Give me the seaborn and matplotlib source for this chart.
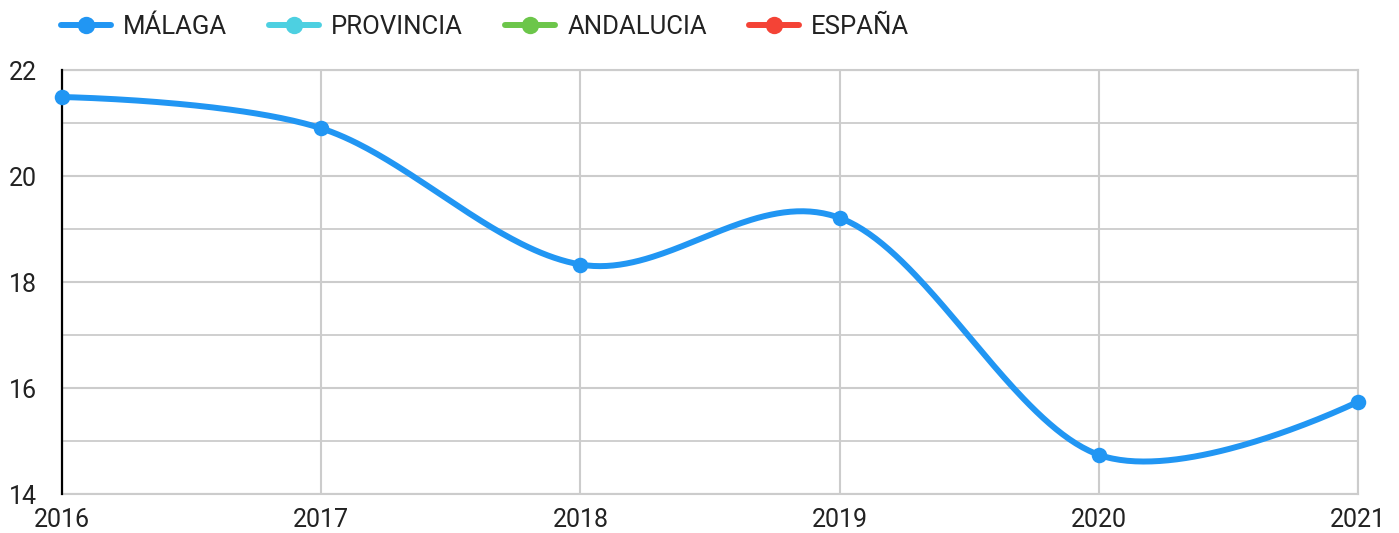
import numpy as np
import pandas as pd
import matplotlib
matplotlib.use("Agg")
import matplotlib.pyplot as plt
import seaborn as sns
from matplotlib.lines import Line2D

# Data
years = [2016, 2017, 2018, 2019, 2020, 2021]
malaga = [21.49, 20.90, 18.33, 19.21, 14.74, 15.74]
series_names = ["MÁLAGA", "PROVINCIA", "ANDALUCIA", "ESPAÑA"]
series_colors = ["#2196F3", "#4DD0E1", "#6CC64A", "#F44336"]
y_major = [14, 16, 18, 20, 22]
y_minor = [15, 17, 19, 21]


def smooth_curve(xs, ys, n=80):
    """Cubic Bezier smoothing through the points (Catmull-Rom style tangents)."""
    pts = np.column_stack([xs, ys]).astype(float)
    k = len(pts)
    out = []
    t = np.linspace(0, 1, n)[:, None]
    for i in range(k - 1):
        p0, p3 = pts[i], pts[i + 1]
        c1 = p0 + (pts[i + 1] - pts[i - 1]) / 6 if i > 0 else p0
        c2 = p3 - (pts[i + 2] - pts[i]) / 6 if i + 2 < k else p3
        seg = (1 - t) ** 3 * p0 + 3 * (1 - t) ** 2 * t * c1 + 3 * (1 - t) * t ** 2 * c2 + t ** 3 * p3
        out.append(seg if i == 0 else seg[1:])
    return np.vstack(out)


sns.set_theme(style="white")
plt.rcParams["font.family"] = ["Roboto", "DejaVu Sans"]
text_color = "#222222"
grid_color = "#cccccc"

fig = plt.figure(figsize=(13.99, 5.33), dpi=100)
ax = fig.add_axes([62 / 1399, 39 / 533, 1296 / 1399, 424 / 533])

points = pd.DataFrame({"year": years, "value": malaga})
curve = smooth_curve(years, malaga)
curve_df = pd.DataFrame({"year": curve[:, 0], "value": curve[:, 1]})

sns.lineplot(data=curve_df, x="year", y="value", sort=False, ax=ax,
             color=series_colors[0], lw=4.3, zorder=5, clip_on=False)
sns.scatterplot(data=points, x="year", y="value", ax=ax, color=series_colors[0],
                s=125, linewidth=0, zorder=6, clip_on=False)

ax.set_xlim(2016, 2021)
ax.set_ylim(14, 22)
ax.set_xticks(years)
ax.set_xticklabels([str(y) for y in years])
ax.set_yticks(y_major)
ax.set_yticklabels([str(v) for v in y_major])
ax.set_yticks(y_minor, minor=True)
ax.set_xlabel("")
ax.set_ylabel("")

ax.grid(which="major", axis="both", color=grid_color, lw=1.5, zorder=0)
ax.grid(which="minor", axis="y", color=grid_color, lw=1.3, zorder=0)
ax.set_axisbelow(True)

for side in ["top", "right", "bottom"]:
    ax.spines[side].set_color(grid_color)
    ax.spines[side].set_linewidth(1.5)
ax.spines["left"].set_color("black")
ax.spines["left"].set_linewidth(1.6)
ax.spines["left"].set_zorder(4)

ax.tick_params(axis="both", which="both", length=0, labelsize=18, colors=text_color)
ax.tick_params(axis="y", pad=18)
ax.tick_params(axis="x", pad=10)

handles = [Line2D([0], [0], color=c, lw=4.3, marker="o", markersize=12.5,
                  markeredgewidth=0) for c in series_colors]
fig.legend(handles, series_names, loc="center left",
           bbox_to_anchor=(61 / 1399, 1 - 27 / 533), ncol=4, frameon=False,
           handlelength=1.95, handletextpad=0.47, columnspacing=1.63,
           borderpad=0, borderaxespad=0, fontsize=18.5, labelcolor=text_color)

fig.savefig("out.png", dpi=100, facecolor="white")
